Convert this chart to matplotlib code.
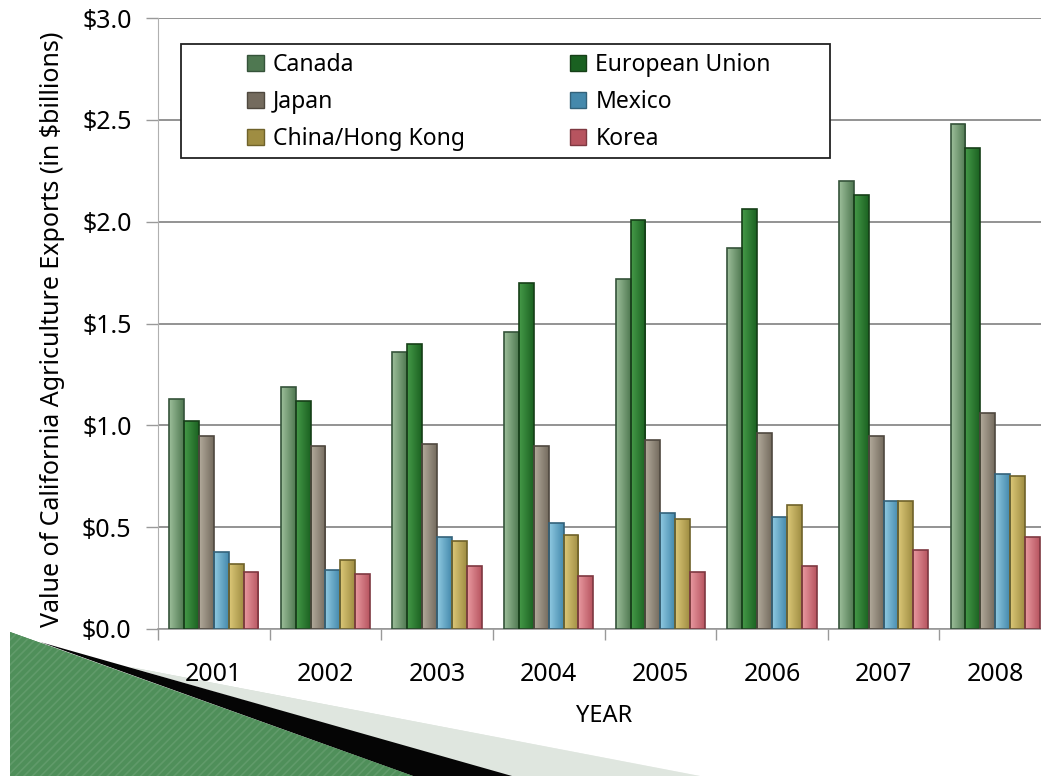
import numpy as np
import matplotlib
matplotlib.use('Agg')
import matplotlib.pyplot as plt
from matplotlib.patches import Polygon, Rectangle, Patch
from matplotlib.colors import to_rgb

plt.rcParams['font.family'] = ['Noto Sans', 'DejaVu Sans']

# data (in $ billions)
years = ['2001', '2002', '2003', '2004', '2005', '2006', '2007', '2008']
series = ['Canada', 'European Union', 'Japan', 'Mexico', 'China/Hong Kong', 'Korea']
canada = [1.13, 1.19, 1.36, 1.46, 1.72, 1.87, 2.20, 2.48]
eu = [1.02, 1.12, 1.40, 1.70, 2.01, 2.06, 2.13, 2.36]
japan = [0.95, 0.90, 0.91, 0.90, 0.93, 0.96, 0.95, 1.06]
mexico = [0.38, 0.29, 0.45, 0.52, 0.57, 0.55, 0.63, 0.76]
china_hk = [0.32, 0.34, 0.43, 0.46, 0.54, 0.61, 0.63, 0.75]
korea = [0.28, 0.27, 0.31, 0.26, 0.28, 0.31, 0.39, 0.45]
values = [canada, eu, japan, mexico, china_hk, korea]
yticks = [0.0, 0.5, 1.0, 1.5, 2.0, 2.5, 3.0]
ytick_labels = ['$0.0', '$0.5', '$1.0', '$1.5', '$2.0', '$2.5', '$3.0']

# light (left side), dark (right side), edge
styles = [
    ('#9dbf9a', '#4f7851', '#35533a'),
    ('#469a48', '#1a6121', '#163f18'),
    ('#b3ab9c', '#746b5e', '#4f483f'),
    ('#8fcae2', '#4589ac', '#33627a'),
    ('#dcc878', '#9f8d42', '#6f622a'),
    ('#e99aa1', '#b7545f', '#7e3841'),
]

W, H = 1041, 776
fig = plt.figure(figsize=(W / 100, H / 100), dpi=100)

# background decoration (pixel coordinates)
bg = fig.add_axes([0, 0, 1, 1], zorder=0)
bg.set_xlim(0, W)
bg.set_ylim(H, 0)
bg.axis('off')

light = Polygon([(130, 667), (700, 776), (507, 776)], closed=True,
                facecolor='#dfe6df', edgecolor='none')
bg.add_patch(light)
grad_l = np.linspace(0, 1, 256).reshape(1, -1)
lc0, lc1 = np.array(to_rgb('#cdd8cd')), np.array(to_rgb('#f2f5f2'))
img_l = lc0 + (lc1 - lc0) * grad_l[..., None]
im = bg.imshow(img_l, extent=[130, 700, 776, 667], aspect='auto')
im.set_clip_path(light)

black = Polygon([(40, 642), (512, 776), (413, 776)], closed=True,
                facecolor='#050505', edgecolor='none')
bg.add_patch(black)

green = Polygon([(10, 632), (413, 776), (10, 776)], closed=True,
                facecolor='#4f8f5a', edgecolor='none')
bg.add_patch(green)
gx = np.linspace(0, 1, 256)
gc = np.array([to_rgb('#2c6637'), to_rgb('#5c9d66'), to_rgb('#6aa872'), to_rgb('#5a9a64')])
pos = np.array([0.0, 0.35, 0.6, 1.0])
img_g = np.stack([np.interp(gx, pos, gc[:, k]) for k in range(3)], axis=-1)[None, :, :]
im = bg.imshow(img_g, extent=[10, 413, 776, 632], aspect='auto')
im.set_clip_path(green)
plt.rcParams['hatch.linewidth'] = 1.2
stripes = Polygon([(10, 632), (413, 776), (10, 776)], closed=True,
                  facecolor='none', edgecolor=(1, 1, 1, 0.10), hatch='////', linewidth=0)
bg.add_patch(stripes)

# main chart
ax = fig.add_axes([158 / W, 1 - 629 / H, 893 / W, 611 / H], zorder=1)
ax.set_facecolor('none')

n = len(series)
bw = 0.8 / n
x = np.arange(len(years))
for j, (name, vals) in enumerate(zip(series, values)):
    c_light, c_dark, c_edge = styles[j]
    bars = ax.bar(x + (j - (n - 1) / 2) * bw, vals, bw, facecolor='none',
                  edgecolor=c_edge, linewidth=1.2, zorder=3)
    a, b = np.array(to_rgb(c_light)), np.array(to_rgb(c_dark))
    grad = a + (b - a) * np.linspace(0, 1, 64)[None, :, None]
    for r in bars:
        x0, y0 = r.get_x(), r.get_y()
        im = ax.imshow(grad, extent=[x0, x0 + r.get_width(), y0, y0 + r.get_height()],
                       aspect='auto', zorder=2.5)
        im.set_clip_path(r)

ax.set_xlim(-0.5, len(years) - 0.5)
ax.set_ylim(0, 3.0)
ax.set_yticks(yticks)
ax.set_yticklabels(ytick_labels)
ax.set_xticks(x)
ax.set_xticklabels(years)
ax.set_xticks(np.arange(len(years) + 1) - 0.5, minor=True)
ax.tick_params(axis='x', which='major', length=0, pad=24, labelsize=18)
ax.tick_params(axis='x', which='minor', length=8, color='#999999', width=1)
ax.tick_params(axis='y', length=9, color='#999999', width=1, pad=10, labelsize=18)
ax.set_axisbelow(True)
ax.yaxis.grid(True, color='#8a8a8a', linewidth=1.3)
for s in ['top', 'right']:
    ax.spines[s].set_visible(False)
ax.spines['left'].set_color('#b0b0b0')
ax.spines['bottom'].set_color('#999999')
ax.spines['bottom'].set_linewidth(1.2)

ax.set_xlabel('YEAR', fontsize=17, labelpad=12)
ax.set_ylabel('Value of California Agriculture Exports (in $billions)', fontsize=18)
ax.yaxis.set_label_coords(-0.104, 0.49)

# legend (row-major order like the original: two entries per row)
box = Rectangle((181 / W, 1 - 158 / H), (830 - 181) / W, (158 - 44) / H,
                transform=fig.transFigure, facecolor='white', edgecolor='#222222',
                linewidth=1.3, zorder=5, clip_on=False)
ax.add_patch(box)
order = [0, 2, 4, 1, 3, 5]
handles = [Patch(facecolor=styles[j][1], edgecolor=styles[j][2], label=series[j]) for j in order]
leg = ax.legend(handles=handles, ncol=2, loc='upper left', frameon=False,
                bbox_to_anchor=(236 / W, 1 - 42 / H), bbox_transform=fig.transFigure,
                fontsize=16.5, handlelength=0.7, handleheight=0.7, handletextpad=0.4,
                labelspacing=0.55, columnspacing=4.6, borderpad=0)
leg.set_zorder(6)

fig.savefig('out.png', dpi=100)
plt.close()
